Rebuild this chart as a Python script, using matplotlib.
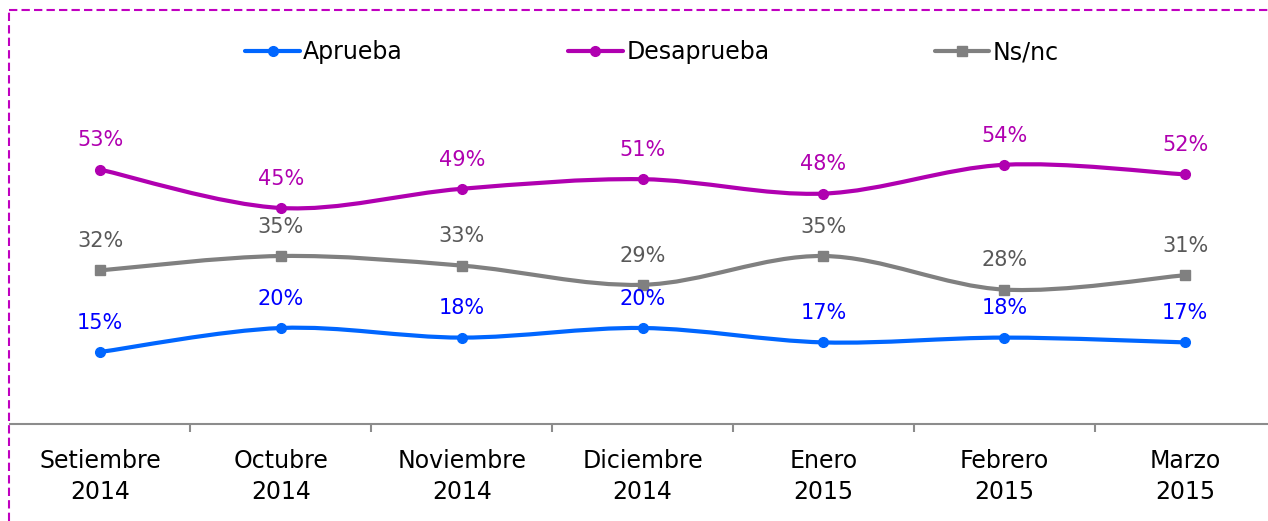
import numpy as np
import matplotlib.pyplot as plt
from matplotlib.path import Path
from matplotlib.patches import PathPatch
from matplotlib.lines import Line2D

# --- Data ---
months = ["Setiembre\n2014", "Octubre\n2014", "Noviembre\n2014", "Diciembre\n2014",
          "Enero\n2015", "Febrero\n2015", "Marzo\n2015"]
aprueba = [15, 20, 18, 20, 17, 18, 17]
desaprueba = [53, 45, 49, 51, 48, 54, 52]
nsnc = [32, 35, 33, 29, 35, 28, 31]

series = [
    ("Aprueba", aprueba, "#0066FF", "#0000FF", "o"),
    ("Desaprueba", desaprueba, "#B000B0", "#B000B0", "o"),
    ("Ns/nc", nsnc, "#808080", "#595959", "s"),
]

W, H = 1268, 521
fig = plt.figure(figsize=(W / 100, H / 100), dpi=100)
# axes placed in pixel terms: x0=9.6, bottom y=424, top y=10
ax = fig.add_axes([9.6 / W, (H - 424) / H, 1266 / W, 414 / H])
ax.set_xlim(-0.5, 6.5)
ax.set_ylim(0, 414 / 4.8)


def smooth_path(xs, ys):
    # Excel-like smoothed line as cubic Bezier segments
    pts = np.column_stack([xs, ys]).astype(float)
    n = len(pts)
    verts = [pts[0]]
    codes = [Path.MOVETO]
    for i in range(n - 1):
        p0 = pts[i - 1] if i > 0 else pts[i]
        p1 = pts[i]
        p2 = pts[i + 1]
        p3 = pts[i + 2] if i + 2 < n else pts[i + 1]
        c1 = p1 + (p2 - p0) / 6
        c2 = p2 - (p3 - p1) / 6
        verts += [c1, c2, p2]
        codes += [Path.CURVE4] * 3
    return Path(verts, codes)


x = np.arange(len(months))
handles = []
for name, vals, col, tcol, mk in series:
    ax.add_patch(PathPatch(smooth_path(x, vals), facecolor="none", edgecolor=col,
                           lw=3, capstyle="round", joinstyle="round"))
    ax.plot(x, vals, linestyle="none", marker=mk, color=col, markersize=7)
    for xi, v in zip(x, vals):
        ax.annotate(f"{v}%", (xi, v), xytext=(0, 21), textcoords="offset points",
                    ha="center", va="center", fontsize=15, color=tcol)
    handles.append(Line2D([], [], color=col, lw=3, marker=mk, markersize=7,
                          solid_capstyle="round", label=name))

for s in ["top", "right", "left"]:
    ax.spines[s].set_visible(False)
ax.spines["bottom"].set_color("#8C8C8C")
ax.spines["bottom"].set_linewidth(1.5)
ax.set_yticks([])
ax.set_xticks(x)
ax.set_xticklabels(months, fontsize=17, linespacing=1.35)
ax.tick_params(axis="x", which="major", length=0, pad=18)
ax.set_xticks(np.arange(0.5, 6, 1), minor=True)
ax.tick_params(axis="x", which="minor", length=6, width=1.5, color="#8C8C8C", direction="out")

leg = fig.legend(handles=handles, loc="center", bbox_to_anchor=(652 / W, 1 - 52 / H),
                 ncol=3, frameon=False, fontsize=17, handlelength=2.3,
                 handletextpad=0.15, columnspacing=7.0)

# dashed border (top and left)
fig.add_artist(Line2D([9 / W, 9 / W], [0, 1 - 10 / H], color="#C000C0", lw=1.5,
                      linestyle=(0, (4, 2)), transform=fig.transFigure))
fig.add_artist(Line2D([9 / W, 1], [1 - 10 / H, 1 - 10 / H], color="#C000C0", lw=1.5,
                      linestyle=(0, (4, 2)), transform=fig.transFigure))

fig.savefig("out.png", dpi=100)
